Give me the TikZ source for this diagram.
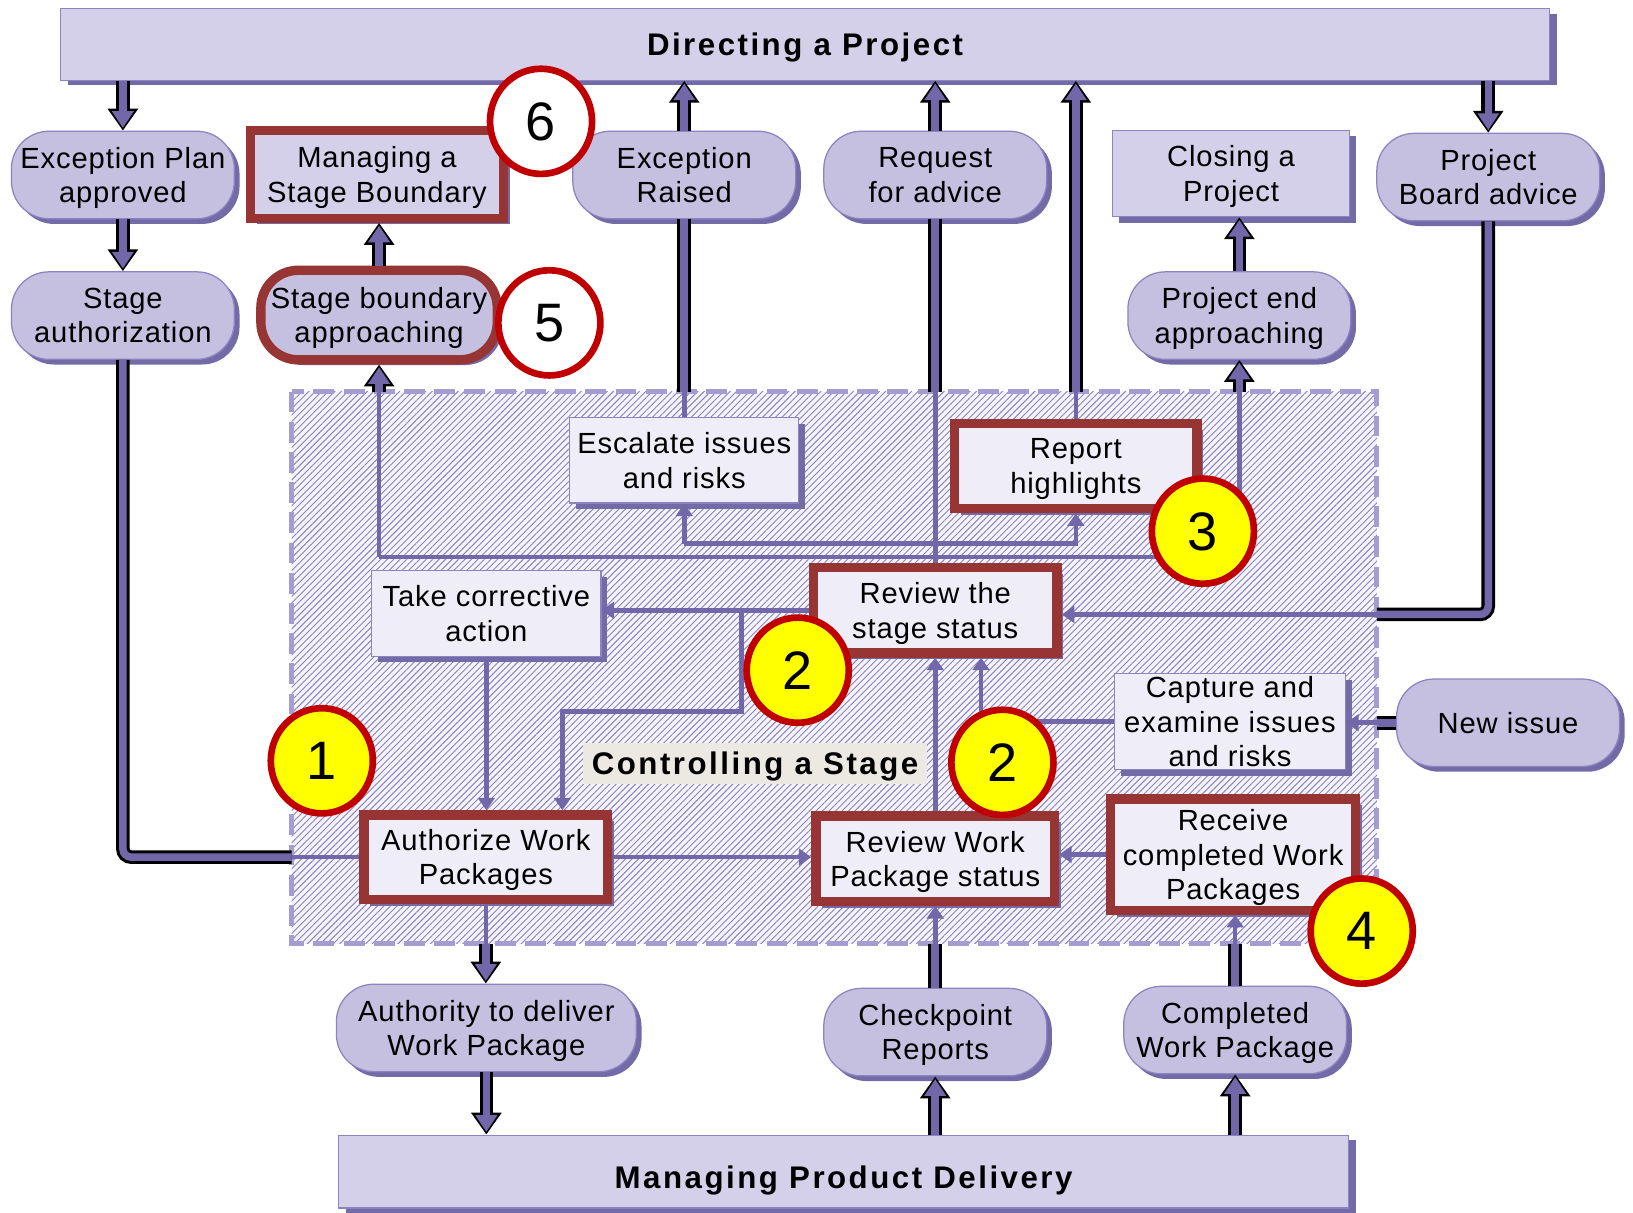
\documentclass[tikz,border=0pt]{standalone}
\usepackage{fontspec}
\setmainfont{Liberation Sans}
\newfontfamily\boxfont[LetterSpace=3]{Liberation Sans}
\newfontfamily\headfont[LetterSpace=8]{Liberation Sans}
\usetikzlibrary{shapes.geometric,arrows.meta,shadows,patterns.meta}

\definecolor{headfill}{HTML}{D5D0E9}
\definecolor{pillfill}{HTML}{C5BFE0}
\definecolor{edgecol}{HTML}{8C84C0}
\definecolor{shadecol}{HTML}{736AA8}
\definecolor{boxfill}{HTML}{EFEEF8}
\definecolor{framered}{HTML}{973535}
\definecolor{ringred}{HTML}{C00000}
\definecolor{flowcol}{HTML}{7167A9}
\definecolor{dashcol}{HTML}{A59DD2}
\definecolor{hatchcol}{HTML}{8A82BF}
\definecolor{hatchbg}{HTML}{F5F4FB}
\definecolor{tagbg}{HTML}{ECE9E3}
\definecolor{marker}{HTML}{FFFF00}

% heavy outlined connector: black body with a purple core
\newcommand\fatarrow[1]{%
  \draw[fatback,-{Triangle[length=10.5pt,width=14pt]}] #1;
  \draw[fatfront,shorten >=1.3pt,-{Triangle[length=8pt,width=10pt]}] #1;}
\newcommand\fatline[1]{\draw[fatback] #1; \draw[fatfront] #1;}

\begin{document}
\begin{tikzpicture}[x=0.5pt,y=-0.5pt,
  every node/.style={inner sep=0pt, align=center, text depth=0pt,
    font=\boxfont\fontsize{14}{16.5}\selectfont},
  headbox/.style={rectangle, fill=headfill, draw=edgecol, line width=0.6pt,
    general shadow={fill=shadecol, shadow xshift=3.5pt, shadow yshift=-2.5pt},
    font=\headfont\bfseries\fontsize{15}{18}\selectfont},
  toprect/.style={rectangle, fill=headfill, draw=edgecol, line width=0.6pt,
    general shadow={fill=shadecol, shadow xshift=3pt, shadow yshift=-3pt}},
  pill/.style={rectangle, rounded corners=18pt, fill=pillfill, draw=edgecol,
    line width=0.6pt,
    general shadow={fill=shadecol, shadow xshift=2.5pt, shadow yshift=-2.5pt},
    minimum width=107pt, minimum height=42pt},
  procbox/.style={rectangle, fill=boxfill, draw=edgecol, line width=0.6pt,
    general shadow={fill=shadecol, shadow xshift=3pt, shadow yshift=-3pt}},
  flag/.style={postaction={draw=framered, line width=4.5pt}, outer sep=2.25pt},
  numring/.style={ellipse, draw=ringred, line width=3.2pt, inner sep=0pt,
    minimum width=49pt, minimum height=50.5pt,
    font=\fontsize{26}{26}\selectfont},
  flow/.style={draw=flowcol, line width=2.2pt},
  flowtip/.style={flow, -{Triangle[length=6pt,width=8pt]}},
  fatback/.style={draw=black, line width=6.5pt},
  fatfront/.style={draw=flowcol, line width=3.6pt},
]
\fill[white] (0,0) rectangle (1568,1164);
\useasboundingbox (0,0) rectangle (1568,1164);

% Controlling a Stage area
\coordinate (rnw) at (280,376);
\coordinate (rse) at (1322,906);
\fill[hatchbg] (rnw) rectangle (rse);
\fill[pattern={Lines[angle=45,distance=2.2pt,line width=0.45pt]},
      pattern color=hatchcol] (rnw) rectangle (rse);
\draw[dashcol, line width=2.5pt, dash pattern=on 10pt off 4.5pt] (rnw) rectangle (rse);

% processes
\node[headbox, minimum width=715pt, minimum height=34.5pt] (dir) at (773,42.5) {Directing a Project};
\node[headbox, minimum width=485pt, minimum height=35pt] (mpd) at (810,1125) {\raisebox{-5.5pt}{Managing Product Delivery}};
\node[toprect, flag, minimum width=121.5pt, minimum height=42pt] (msb) at (362,167.5) {Managing a\\Stage Boundary};
\node[toprect, minimum width=114pt, minimum height=41.5pt] (cls) at (1182,166.5) {Closing a\\Project};

% events
\node[pill] (epa) at (118,168) {Exception Plan\\approved};
\node[pill] (sau) at (118,303) {Stage\\authorization};
\node[pill, flag, minimum width=113.5pt, minimum height=43pt] (sba) at (364,302.5) {Stage boundary\\approaching};
\node[pill] (exr) at (657,168) {Exception\\Raised};
\node[pill] (rfa) at (898,168) {Request\\for advice};
\node[pill] (pba) at (1429,170) {Project\\Board advice};
\node[pill] (pea) at (1190,303) {Project end\\approaching};
\node[pill] (new) at (1448,694) {New issue};
\node[pill, minimum width=144pt] (atd) at (467,987) {Authority to deliver\\Work Package};
\node[pill] (chk) at (898,991) {Checkpoint\\Reports};
\node[pill] (cwp) at (1186,989) {Completed\\Work Package};

% activities inside the stage
\node[procbox, minimum width=110pt, minimum height=41pt] (esc) at (657,442) {Escalate issues\\and risks};
\node[procbox, flag, minimum width=116.5pt, minimum height=41pt] (rep) at (1033,447.5) {Report\\highlights};
\node[procbox, minimum width=110pt, minimum height=41pt] (tca) at (467,589) {Take corrective\\action};
\node[procbox, flag, minimum width=117pt, minimum height=41pt] (rss) at (898,586) {Review the\\stage status};
\node[procbox, minimum width=111pt, minimum height=46pt] (cei) at (1181,693) {Capture and\\examine issues\\and risks};
\node[procbox, flag, minimum width=117pt, minimum height=40.5pt] (awp) at (466.5,823) {Authorize Work\\Packages};
\node[procbox, flag, minimum width=114.5pt, minimum height=41pt] (rwp) at (898,824.5) {Review Work\\Package status};
\node[procbox, flag, minimum width=117.5pt, minimum height=53.5pt] (rcw) at (1184,820.5) {Receive\\completed Work\\Packages};

% links to the upper processes
\fatarrow{(epa.north |- dir.south) -- (epa.north)}
\fatarrow{(epa.south) -- (sau.north)}
\coordinate (sauturn) at (sau.south |- awp.west);
\coordinate (sauedge) at (rnw |- awp.west);
\fatline{[rounded corners=4pt] (sau.south) -- (sauturn) -- (sauedge)}
\draw[flow] (sauedge) -- (awp.west);

\fatarrow{(sba.north) -- (sba.north |- msb.south)}
\coordinate (busl) at (364,535);
\coordinate (busr) at (1190,535);
\draw[flow] (busl) -- (busr);
\draw[flow] (busl) -- (busl |- rnw);
\fatarrow{(busl |- rnw) -- (sba.south)}
\draw[flow] (busr) -- (busr |- rnw);
\fatarrow{(busr |- rnw) -- (pea.south)}
\fatarrow{(pea.north) -- (pea.north |- cls.south)}

\coordinate (escbus) at (657,522);
\coordinate (repbus) at (1033,522);
\draw[flowtip] (escbus) -- (esc.south);
\draw[flowtip] (escbus) -- (repbus) -- (rep.south);

\draw[flow] (esc.north) -- (esc.north |- rnw);
\fatline{(esc.north |- rnw) -- (exr.south)}
\fatarrow{(exr.north) -- (exr.north |- dir.south)}

\draw[flow] (rss.north) -- (rss.north |- rnw);
\fatline{(rss.north |- rnw) -- (rfa.south)}
\fatarrow{(rfa.north) -- (rfa.north |- dir.south)}

\draw[flow] (rep.north) -- (rep.north |- rnw);
\fatarrow{(rep.north |- rnw) -- (rep.north |- dir.south)}

\fatarrow{(pba.north |- dir.south) -- (pba.north)}
\coordinate (pbaturn) at (1429,590);
\coordinate (pbaedge) at (1322,590);
\fatline{[rounded corners=4pt] (pba.south) -- (pbaturn) -- (pbaedge)}
\draw[flowtip] (pbaedge) -- (pbaedge -| rss.east);

\fatline{(new.west) -- (new.west -| rse)}
\draw[flowtip] (new.west -| rse) -- (new.west -| cei.east);

% flows inside the stage
\coordinate (tap) at (712,586);
\coordinate (tapdown) at (712,683);
\coordinate (tapleft) at (540,683);
\draw[flowtip] (rss.west) -- (rss.west -| tca.east);
\draw[flowtip] (tap) -- (tapdown) -- (tapleft) -- (tapleft |- awp.north);
\draw[flowtip] (tca.south) -- (tca.south |- awp.north);
\draw[flowtip] (awp.east) -- (awp.east -| rwp.west);
\draw[flowtip] (rcw.west) -- (rcw.west -| rwp.east);
\draw[flowtip] (rwp.north) -- (rwp.north |- rss.south);
\coordinate (ceiturn) at (942,693);
\draw[flowtip] (cei.west) -- (ceiturn) -- (ceiturn |- rss.south);

% links to product delivery
\draw[flow] (awp.south) -- (awp.south |- rse);
\fatarrow{(awp.south |- rse) -- (awp.south |- atd.north)}
\fatarrow{(atd.south) -- (atd.south |- mpd.north)}
\fatarrow{(chk.south |- mpd.north) -- (chk.south)}
\fatline{(chk.north) -- (chk.north |- rse)}
\draw[flowtip] (chk.north |- rse) -- (chk.north |- rwp.south);
\fatarrow{(cwp.south |- mpd.north) -- (cwp.south)}
\fatline{(cwp.north) -- (cwp.north |- rse)}
\draw[flowtip] (cwp.north |- rse) -- (cwp.north |- rcw.south);

% area title
\node[fill=tagbg, minimum width=165pt, minimum height=20pt,
      font=\headfont\bfseries\fontsize{15}{18}\selectfont] (tag) at (725,733) {Controlling a Stage};

% numbered callouts
\node[numring, fill=white] (n6) at (519.5,116.5) {6};
\node[numring, fill=white] (n5) at (527.5,310) {5};
\node[numring, fill=marker] (n3) at (1155,510) {3};
\node[numring, fill=marker] (n2a) at (766,643.5) {2};
\node[numring, fill=marker] (n2b) at (962.5,732) {2};
\node[numring, fill=marker] (n1) at (309,730.5) {1};
\node[numring, fill=marker] (n4) at (1307.5,894) {4};
\end{tikzpicture}
\end{document}
